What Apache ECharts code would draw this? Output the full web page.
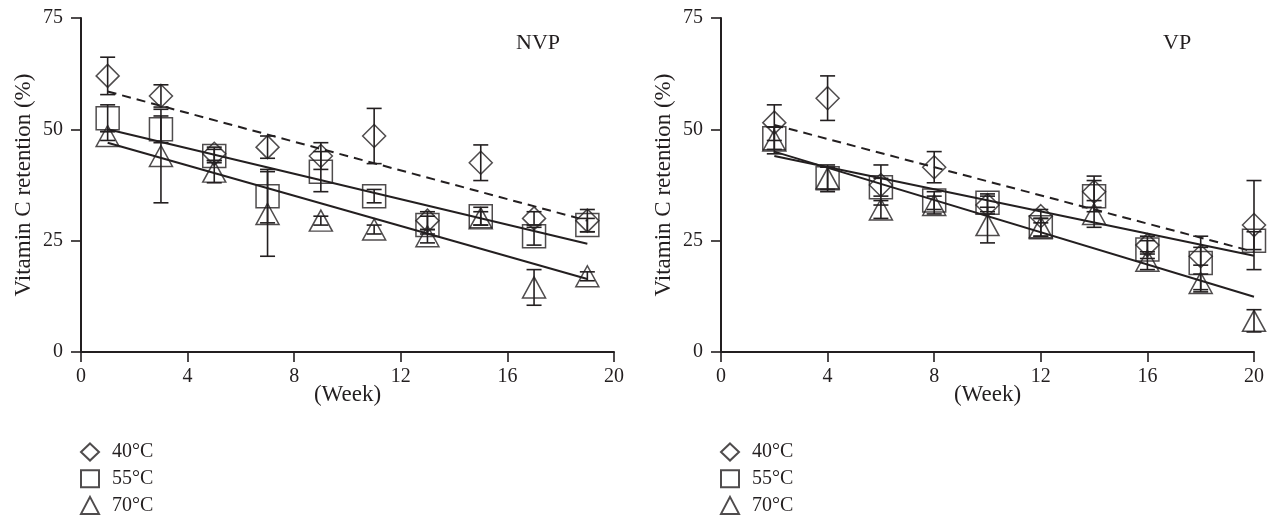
<!DOCTYPE html>
<html>
<head>
<meta charset="utf-8">
<script src="https://cdn.jsdelivr.net/npm/echarts@6/dist/echarts.min.js"></script>
<style>
  html, body { margin: 0; padding: 0; background: #fff; }
  #chart { width: 1270px; height: 517px; }
</style>
</head>
<body>
<div id="chart"></div>
<script>
// ── 数据 ──
const tempNames = ['40°C', '55°C', '70°C']

// NVP 面板
const weeksNVP = [1, 3, 5, 7, 9, 11, 13, 15, 17, 19]
const nvp40 = [62, 57.5, 44.5, 46, 44, 48.5, 29.5, 42.5, 30, 29.5]
const nvp40Err = [4.2, 2.5, 1.5, 2.5, 3, 6.2, 2, 4, 1.5, 2.5]
const nvp55 = [52.5, 50, 44, 35, 40.5, 35, 28.5, 30.5, 26, 28.5]
const nvp55Err = [3, 3, 1.5, 6, 4.5, 1.5, 2, 2, 2, 1.5]
const nvp70 = [48.5, 44, 40.5, 31, 29.5, 27.5, 26, 30, 14.5, 17]
const nvp70Err = [1, 10.5, 2.5, 9.5, 1, 1, 1.5, 1.5, 4, 1]
const fitNVPx = [1, 19]
const fitNVP40 = [58.5, 29.5]
const fitNVP55 = [50, 24.3]
const fitNVP70 = [47, 16.4]

// VP 面板
const weeksVP = [2, 4, 6, 8, 10, 12, 14, 16, 18, 20]
const vp40 = [51.5, 57, 37.5, 41.5, 33, 30.5, 36, 24, 21.5, 28.5]
const vp40Err = [4, 5, 4.5, 3.5, 2, 1.5, 3.5, 2, 2, 10]
const vp55 = [48, 39, 37, 34, 33.5, 28, 35, 23, 20, 25]
const vp55Err = [2.5, 2.5, 2, 2, 2, 2, 3.5, 2, 6, 2]
const vp70 = [47.5, 39, 32, 33, 28.5, 28, 31, 20.5, 15.5, 7]
const vp70Err = [3, 3, 2, 2, 4, 2, 3, 2, 2, 2.5]
const fitVPx = [2, 20]
const fitVP40 = [51, 22.5]
const fitVP55 = [44, 21.6]
const fitVP70 = [45, 12.4]

// 坐标轴刻度
const xTicks = { min: 0, max: 20, interval: 4 }
const yTicks = { min: 0, max: 75, interval: 25 }

// ── 样式 ──
const INK = '#231f20'
const FONT = "'Liberation Serif', 'DejaVu Serif', serif"
const symbols = ['diamond', 'rect', 'triangle']
const symbolSizes = [[23, 23], [23, 23], [23, 21]]

const zip = (xs, ys) => xs.map((x, i) => [x, ys[i]])

// 误差棒：竖线 + 上下横帽
const errorSeries = (xs, ys, errs, idx) => ({
    type: 'custom',
    name: 'err' + idx,
    xAxisIndex: idx,
    yAxisIndex: idx,
    silent: true,
    z: 3,
    data: xs.map((x, i) => [x, ys[i] - errs[i], ys[i] + errs[i]]),
    encode: { x: 0, y: [1, 2] },
    renderItem: (params, api) => {
        const lo = api.coord([api.value(0), api.value(1)])
        const hi = api.coord([api.value(0), api.value(2)])
        const w = 7.5
        const style = { stroke: INK, lineWidth: 1.6 }
        return {
            type: 'group',
            children: [
                { type: 'line', shape: { x1: lo[0], y1: lo[1], x2: hi[0], y2: hi[1] }, style },
                { type: 'line', shape: { x1: lo[0] - w, y1: lo[1], x2: lo[0] + w, y2: lo[1] }, style },
                { type: 'line', shape: { x1: hi[0] - w, y1: hi[1], x2: hi[0] + w, y2: hi[1] }, style },
            ],
        }
    },
})

const pointSeries = (xs, ys, t, idx) => ({
    type: 'scatter',
    name: tempNames[t],
    xAxisIndex: idx,
    yAxisIndex: idx,
    symbol: symbols[t],
    symbolSize: symbolSizes[t],
    z: 4,
    itemStyle: { color: 'rgba(0,0,0,0)', borderColor: INK, borderWidth: 1.5 },
    data: zip(xs, ys),
})

const fitSeries = (xs, ys, dashed, idx, tag) => ({
    type: 'line',
    name: 'fit' + tag,
    xAxisIndex: idx,
    yAxisIndex: idx,
    silent: true,
    symbol: 'none',
    z: 2,
    lineStyle: { color: INK, width: 2, type: dashed ? [9, 6] : 'solid' },
    data: zip(xs, ys),
})

const makeAxisX = (gridIndex) => ({
    type: 'value',
    gridIndex,
    ...xTicks,
    name: '(Week)',
    nameLocation: 'middle',
    nameGap: 31,
    nameMoveOverlap: false,
    nameTextStyle: { color: INK, fontFamily: FONT, fontSize: 23 },
    axisLine: { show: true, lineStyle: { color: INK, width: 2 } },
    axisTick: { show: true, length: 10, lineStyle: { color: INK, width: 1.6 } },
    axisLabel: { color: INK, fontFamily: FONT, fontSize: 20, margin: 15 },
    splitLine: { show: false },
})

const makeAxisY = (gridIndex) => ({
    type: 'value',
    gridIndex,
    ...yTicks,
    name: 'Vitamin C retention (%)',
    nameLocation: 'middle',
    nameGap: 46,
    nameMoveOverlap: false,
    nameTextStyle: { color: INK, fontFamily: FONT, fontSize: 23 },
    axisLine: { show: true, lineStyle: { color: INK, width: 2 } },
    axisTick: { show: true, length: 10, lineStyle: { color: INK, width: 1.6 } },
    axisLabel: { color: INK, fontFamily: FONT, fontSize: 20, margin: 18 },
    splitLine: { show: false },
})

const makeLegend = (left) => ({
    orient: 'vertical',
    left,
    top: 437,
    height: 110,
    itemWidth: 18,
    itemHeight: 17,
    itemGap: 6.7,
    selectedMode: false,
    data: tempNames,
    textStyle: { color: INK, fontFamily: FONT, fontSize: 20, lineHeight: 20, padding: [0, 0, 0, 8] },
})

const chart = echarts.init(document.getElementById('chart'), null, { renderer: 'canvas' })

chart.setOption({
    animation: false,
    backgroundColor: '#fff',
    grid: [
        { left: 81, top: 18, width: 533, height: 334 },
        { left: 721, top: 18, width: 533, height: 334 },
    ],
    xAxis: [makeAxisX(0), makeAxisX(1)],
    yAxis: [makeAxisY(0), makeAxisY(1)],
    legend: [makeLegend(75), makeLegend(715)],
    graphic: [
        { type: 'text', left: 516, top: 32, style: { text: 'NVP', fill: INK, font: '22px ' + FONT } },
        { type: 'text', left: 1163, top: 32, style: { text: 'VP', fill: INK, font: '22px ' + FONT } },
    ],
    series: [
        // NVP
        fitSeries(fitNVPx, fitNVP40, true, 0, 'n40'),
        fitSeries(fitNVPx, fitNVP55, false, 0, 'n55'),
        fitSeries(fitNVPx, fitNVP70, false, 0, 'n70'),
        errorSeries(weeksNVP, nvp40, nvp40Err, 0),
        errorSeries(weeksNVP, nvp55, nvp55Err, 0),
        errorSeries(weeksNVP, nvp70, nvp70Err, 0),
        pointSeries(weeksNVP, nvp40, 0, 0),
        pointSeries(weeksNVP, nvp55, 1, 0),
        pointSeries(weeksNVP, nvp70, 2, 0),
        // VP
        fitSeries(fitVPx, fitVP40, true, 1, 'v40'),
        fitSeries(fitVPx, fitVP55, false, 1, 'v55'),
        fitSeries(fitVPx, fitVP70, false, 1, 'v70'),
        errorSeries(weeksVP, vp40, vp40Err, 1),
        errorSeries(weeksVP, vp55, vp55Err, 1),
        errorSeries(weeksVP, vp70, vp70Err, 1),
        pointSeries(weeksVP, vp40, 0, 1),
        pointSeries(weeksVP, vp55, 1, 1),
        pointSeries(weeksVP, vp70, 2, 1),
    ],
})

window.addEventListener('resize', () => chart.resize())
</script>
</body>
</html>
